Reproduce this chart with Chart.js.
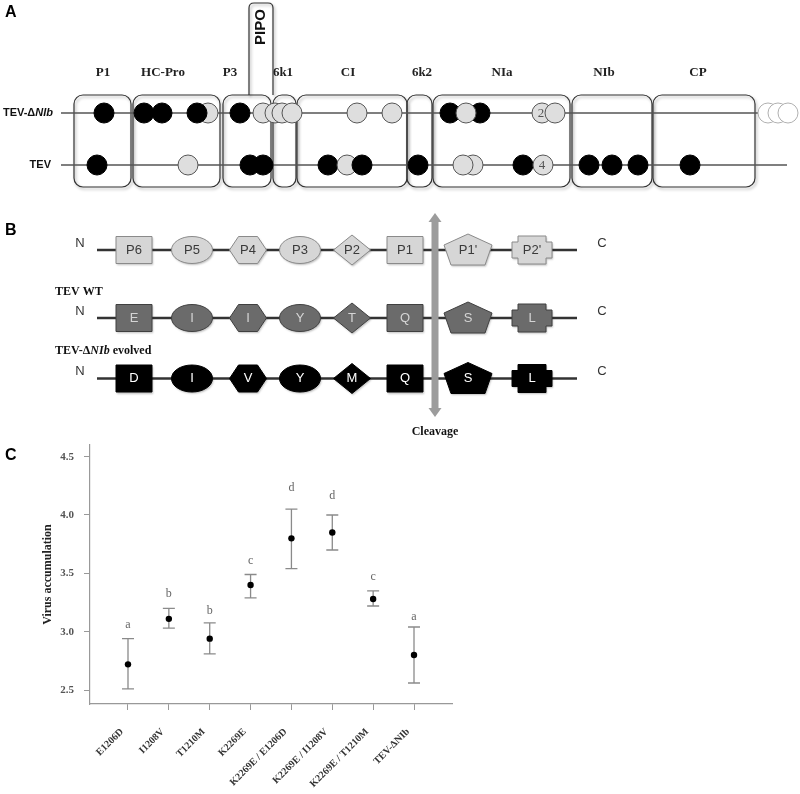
<!DOCTYPE html>
<html><head><meta charset="utf-8">
<script src="https://cdn.jsdelivr.net/npm/chart.js@4.4.1/dist/chart.umd.min.js"></script>
<style>
html,body{margin:0;padding:0;background:#fff;width:800px;height:794px;overflow:hidden;}
.pane{position:absolute;left:0;width:800px;}
</style></head><body>
<div class="pane" style="top:0;height:195px"><canvas id="ca"></canvas></div>
<div class="pane" style="top:195px;height:245px"><canvas id="cb"></canvas></div>
<div class="pane" style="top:440px;height:354px"><canvas id="cc"></canvas></div>
<script>
// ---------- Panel A data (genome map, x in map units) ----------
const geneNames  = ['P1','HC-Pro','P3','6k1','CI','6k2','NIa','NIb','CP'];
const geneStart  = [74,133,223,273,297,407,433,572,653];
const geneEnd    = [131,220,271,296,407,432,570,652,755];
const geneLabelX = [103,163,230,283,348,422,502,604,698];
const pipoStart = 249, pipoEnd = 273;
const genomeRows = ['TEV-ΔNIb','TEV'];
// mutations (draw order), type: b = fixed (black), l = polymorphic (grey), o = deleted region
const deltaMutX    = [104,144,162,208,197,240,263,275,282,292,357,392,450,480,466,542,555,768,778,788];
const deltaMutType = ['b','b','b','l','b','b','l','l','l','l','l','l','b','b','l','l','l','o','o','o'];
const deltaMutTag  = ['','','','','','','','','','','','','','','','2','','','',''];
const tevMutX      = [97,188,250,263,328,347,362,418,473,463,523,543,589,612,638,690];
const tevMutType   = ['b','l','b','b','b','l','b','b','l','l','b','l','b','b','b','b'];
const tevMutTag    = ['','','','','','','','','','','','4','','','',''];

// ---------- Panel B data (cleavage site) ----------
const siteNames  = ['P6','P5','P4','P3','P2','P1',"P1'","P2'"];
const siteShapes = ['rect','ellipse','hexagon','ellipse','diamond','rect','pentagon','notched'];
const sitePos    = [134,192,248,300,352,405,468,532];
const wtResidues      = ['E','I','I','Y','T','Q','S','L'];
const evolvedResidues = ['D','I','V','Y','M','Q','S','L'];

// ---------- Panel C data ----------
const mutants  = ['E1206D','I1208V','T1210M','K2269E','K2269E / E1206D','K2269E / I1208V','K2269E / T1210M','TEV-ΔNIb'];
const accMean  = [2.72,3.11,2.94,3.40,3.80,3.85,3.28,2.80];
const accUpper = [2.94,3.20,3.075,3.49,4.05,4.00,3.35,3.04];
const accLower = [2.51,3.03,2.81,3.29,3.54,3.70,3.22,2.56];
const groupLetters = ['a','b','b','c','d','d','c','a'];
const letterPos    = [3.06,3.32,3.18,3.61,4.23,4.16,3.47,3.13];
const yTicks = [2.5,3.0,3.5,4.0,4.5];

const SERIF = '"Liberation Serif","Times New Roman",serif';
const SANS  = '"Liberation Sans",Arial,sans-serif';
Chart.defaults.animation = false;
Chart.defaults.plugins.legend.display = false;
Chart.defaults.plugins.tooltip.enabled = false;
Chart.defaults.events = [];

const circleFill   = {b:'#000000', l:'#dedede', o:'#ffffff'};
const circleStroke = {b:'#000000', l:'#555555', o:'#b0b0b0'};

function rr(ctx,x,y,w,h,r){ctx.beginPath();ctx.roundRect(x,y,w,h,r);}

// ---------- Panel A ----------
const panelA = {
  id:'panelA',
  beforeDatasetsDraw(chart){
    const {ctx, scales:{x,y}} = chart;
    ctx.save();
    ctx.fillStyle='#000'; ctx.font='bold 16px '+SANS; ctx.textAlign='left'; ctx.textBaseline='middle';
    ctx.fillText('A',5,y.getPixelForValue(13));
    ctx.font='bold 13px '+SERIF; ctx.textAlign='center'; ctx.fillStyle='#222';
    geneNames.forEach((g,i)=>ctx.fillText(g,x.getPixelForValue(geneLabelX[i]),y.getPixelForValue(73)));
    ctx.shadowColor='rgba(0,0,0,0.35)'; ctx.shadowBlur=3; ctx.shadowOffsetX=1.5; ctx.shadowOffsetY=2;
    ctx.strokeStyle='#333'; ctx.lineWidth=1.2;
    const top=y.getPixelForValue(95), bot=y.getPixelForValue(187);
    geneStart.forEach((s,i)=>{
      const x0=x.getPixelForValue(s), x1=x.getPixelForValue(geneEnd[i]);
      rr(ctx,x0,top,x1-x0,bot-top,9); ctx.stroke();
    });
    const px0=x.getPixelForValue(pipoStart), px1=x.getPixelForValue(pipoEnd), pt=y.getPixelForValue(3);
    ctx.beginPath(); ctx.moveTo(px0,top); ctx.lineTo(px0,pt+5); ctx.quadraticCurveTo(px0,pt,px0+5,pt);
    ctx.lineTo(px1-5,pt); ctx.quadraticCurveTo(px1,pt,px1,pt+5); ctx.lineTo(px1,top); ctx.stroke();
    ctx.shadowColor='transparent';
    ctx.save(); ctx.translate((px0+px1)/2, y.getPixelForValue(27)); ctx.rotate(-Math.PI/2);
    ctx.font='bold 15px '+SANS; ctx.fillStyle='#111'; ctx.textAlign='center'; ctx.textBaseline='middle';
    ctx.fillText('PIPO',0,0); ctx.restore();
    ctx.strokeStyle='#555'; ctx.lineWidth=1.4;
    const ly=[113,165], lx1=[758,787];
    ly.forEach((v,i)=>{ctx.beginPath();ctx.moveTo(x.getPixelForValue(61),y.getPixelForValue(v));ctx.lineTo(x.getPixelForValue(lx1[i]),y.getPixelForValue(v));ctx.stroke();});
    ctx.fillStyle='#111'; ctx.textBaseline='middle'; ctx.textAlign='right';
    const ry0=y.getPixelForValue(113);
    ctx.font='bold italic 11px '+SANS; const wIt=ctx.measureText('NIb').width;
    ctx.fillText('NIb',53,ry0);
    ctx.font='bold 11px '+SANS; ctx.fillText('TEV-Δ',53-wIt,ry0);
    ctx.fillText('TEV',51,y.getPixelForValue(165));
    ctx.restore();
  },
  afterDatasetsDraw(chart){
    const {ctx} = chart;
    ctx.save(); ctx.font='13px '+SERIF; ctx.fillStyle='#555'; ctx.textAlign='center'; ctx.textBaseline='middle';
    [deltaMutTag,tevMutTag].forEach((tags,d)=>{
      const meta=chart.getDatasetMeta(d);
      tags.forEach((t,i)=>{ if(t){const p=meta.data[i]; ctx.fillText(t,p.x-1,p.y+1);} });
    });
    ctx.restore();
  }
};
new Chart(document.getElementById('ca'),{
  type:'scatter',
  data:{datasets:[
    {data:deltaMutX.map(v=>({x:v,y:113})), pointRadius:10,
     backgroundColor:c=>circleFill[deltaMutType[c.dataIndex]], borderColor:c=>circleStroke[deltaMutType[c.dataIndex]], borderWidth:1},
    {data:tevMutX.map(v=>({x:v,y:165})), pointRadius:10,
     backgroundColor:c=>circleFill[tevMutType[c.dataIndex]], borderColor:c=>circleStroke[tevMutType[c.dataIndex]], borderWidth:1}
  ]},
  options:{responsive:true,maintainAspectRatio:false,devicePixelRatio:1,layout:{padding:0,autoPadding:false},
    scales:{x:{type:'linear',min:0,max:800,display:false},y:{type:'linear',min:0,max:195,reverse:true,display:false}}},
  plugins:[panelA]
});

// ---------- Panel B ----------
function shapePath(ctx,kind,cx,cy){
  const poly=pts=>{ctx.moveTo(cx+pts[0][0],cy+pts[0][1]);pts.slice(1).forEach(p=>ctx.lineTo(cx+p[0],cy+p[1]));};
  ctx.beginPath();
  switch(kind){
    case 'rect': ctx.rect(cx-18,cy-13.5,36,27); break;
    case 'ellipse': ctx.ellipse(cx,cy,20.5,13.5,0,0,Math.PI*2); break;
    case 'hexagon': poly([[-18.5,0],[-9.5,-13.5],[9.5,-13.5],[18.5,0],[9.5,13.5],[-9.5,13.5]]); break;
    case 'diamond': poly([[-18.5,0],[0,-15],[18.5,0],[0,15]]); break;
    case 'pentagon': poly([[0,-16],[24,-5],[17,15],[-17,15],[-24,-5]]); break;
    case 'notched': poly([[-14,-14],[14,-14],[14,-8],[20,-8],[20,8],[14,8],[14,14],[-14,14],[-14,8],[-20,8],[-20,-8],[-14,-8]]); break;
  }
  ctx.closePath();
}
const rowStyle=[{fill:'#d6d6d6',stroke:'#8a8a8a',text:'#3a3a3a'},{fill:'#6b6b6b',stroke:'#404040',text:'#d4d4d4'},{fill:'#000',stroke:'#000',text:'#fff'}];
const rowText=[siteNames,wtResidues,evolvedResidues];
const panelB={
  id:'panelB',
  beforeDatasetsDraw(chart){
    const {ctx,scales:{x,y}}=chart;
    ctx.save();
    ctx.fillStyle='#000'; ctx.font='bold 16px '+SANS; ctx.textBaseline='middle'; ctx.textAlign='left';
    ctx.fillText('B',5,y.getPixelForValue(231));
    const rows=[250,318,378.5];
    ctx.strokeStyle='#333'; ctx.lineWidth=2.5;
    rows.forEach(r=>{ctx.beginPath();ctx.moveTo(x.getPixelForValue(97),y.getPixelForValue(r));ctx.lineTo(x.getPixelForValue(577),y.getPixelForValue(r));ctx.stroke();});
    ctx.font='13px '+SANS; ctx.fillStyle='#333'; ctx.textAlign='center';
    rows.forEach(r=>{ctx.fillText('N',x.getPixelForValue(80),y.getPixelForValue(r-7));ctx.fillText('C',x.getPixelForValue(602),y.getPixelForValue(r-7));});
    ctx.textAlign='left'; ctx.fillStyle='#111';
    ctx.font='bold 12px '+SERIF; ctx.fillText('TEV WT',55,y.getPixelForValue(292));
    let tx=55; const ty=y.getPixelForValue(351);
    ctx.fillText('TEV-Δ',tx,ty); tx+=ctx.measureText('TEV-Δ').width;
    ctx.font='bold italic 12px '+SERIF; ctx.fillText('NIb',tx,ty); tx+=ctx.measureText('NIb').width;
    ctx.font='bold 12px '+SERIF; ctx.fillText(' evolved',tx,ty);
    const ax=x.getPixelForValue(435), a0=y.getPixelForValue(213), a1=y.getPixelForValue(417);
    ctx.fillStyle='#9c9c9c';
    ctx.fillRect(ax-3.5,a0+8,7,a1-a0-16);
    ctx.beginPath();ctx.moveTo(ax,a0);ctx.lineTo(ax+6.5,a0+9);ctx.lineTo(ax-6.5,a0+9);ctx.closePath();ctx.fill();
    ctx.beginPath();ctx.moveTo(ax,a1);ctx.lineTo(ax+6.5,a1-9);ctx.lineTo(ax-6.5,a1-9);ctx.closePath();ctx.fill();
    ctx.fillStyle='#111'; ctx.font='bold 12px '+SERIF; ctx.textAlign='center';
    ctx.fillText('Cleavage',ax,y.getPixelForValue(432));
    ctx.restore();
  },
  afterDatasetsDraw(chart){
    const {ctx}=chart;
    ctx.save();
    chart.data.datasets.forEach((ds,r)=>{
      const meta=chart.getDatasetMeta(r), st=rowStyle[r];
      meta.data.forEach((p,i)=>{
        ctx.shadowColor='rgba(0,0,0,0.25)'; ctx.shadowBlur=2; ctx.shadowOffsetX=1; ctx.shadowOffsetY=1.5;
        shapePath(ctx,siteShapes[i],p.x,p.y);
        ctx.fillStyle=st.fill; ctx.fill();
        ctx.shadowColor='transparent';
        ctx.strokeStyle=st.stroke; ctx.lineWidth=1; ctx.stroke();
        ctx.fillStyle=st.text; ctx.font='13px '+SANS; ctx.textAlign='center'; ctx.textBaseline='middle';
        ctx.fillText(rowText[r][i],p.x,p.y);
      });
    });
    ctx.restore();
  }
};
new Chart(document.getElementById('cb'),{
  type:'scatter',
  data:{datasets:[250,318,378.5].map(r=>({data:sitePos.map(v=>({x:v,y:r})),pointRadius:0}))},
  options:{responsive:true,maintainAspectRatio:false,devicePixelRatio:1,layout:{padding:0,autoPadding:false},
    scales:{x:{type:'linear',min:0,max:800,display:false},y:{type:'linear',min:195,max:440,reverse:true,display:false}}},
  plugins:[panelB]
});

// ---------- Panel C ----------
const panelC={
  id:'panelC',
  beforeDatasetsDraw(chart){
    const {ctx,scales:{x,y}}=chart;
    ctx.save();
    ctx.fillStyle='#000'; ctx.font='bold 16px '+SANS; ctx.textBaseline='middle'; ctx.textAlign='left';
    ctx.fillText('C',5,16);
    ctx.strokeStyle='#8a8a8a'; ctx.lineWidth=1.3;
    accMean.forEach((m,i)=>{
      const px=x.getPixelForValue(i), yt=y.getPixelForValue(accUpper[i]), yb=y.getPixelForValue(accLower[i]);
      ctx.beginPath();
      ctx.moveTo(px,yt);ctx.lineTo(px,yb);
      ctx.moveTo(px-6,yt);ctx.lineTo(px+6,yt);
      ctx.moveTo(px-6,yb);ctx.lineTo(px+6,yb);
      ctx.stroke();
    });
    ctx.fillStyle='#666'; ctx.font='12px '+SERIF; ctx.textAlign='center';
    groupLetters.forEach((l,i)=>ctx.fillText(l,x.getPixelForValue(i),y.getPixelForValue(letterPos[i])));
    ctx.restore();
  }
};
new Chart(document.getElementById('cc'),{
  type:'scatter',
  data:{datasets:[{data:accMean.map((v,i)=>({x:i,y:v})),pointRadius:3.2,backgroundColor:'#000',borderColor:'#000',borderWidth:0}]},
  options:{responsive:true,maintainAspectRatio:false,devicePixelRatio:1,
    layout:{padding:{top:5,right:348,left:0,bottom:0},autoPadding:false},
    scales:{
      x:{type:'linear',min:-0.93,max:7.93,
        afterBuildTicks:s=>{s.ticks=mutants.map((m,i)=>({value:i}));},
        afterFit:s=>{s.height=90;s.paddingLeft=0;s.paddingRight=0;s.paddingTop=0;s.paddingBottom=0;},
        grid:{drawOnChartArea:false,drawTicks:true,tickLength:6,color:'#999'},
        border:{color:'#999',width:1.2},
        ticks:{autoSkip:false,maxRotation:45,minRotation:45,padding:16,labelOffset:-6,color:'#333',
          font:{family:SERIF,size:10,weight:'bold'},callback:v=>mutants[v]}},
      y:{type:'linear',min:2.38,max:4.6,
        afterBuildTicks:s=>{s.ticks=yTicks.map(v=>({value:v}));},
        afterFit:s=>{s.width=90;s.paddingTop=0;s.paddingBottom=0;s.paddingLeft=0;s.paddingRight=0;},
        grid:{drawOnChartArea:false,drawTicks:true,tickLength:6,color:'#999'},
        border:{color:'#999',width:1.2},
        ticks:{padding:10,color:'#555',font:{family:SERIF,size:11,weight:'bold'},callback:v=>v.toFixed(1)},
        title:{display:true,text:'Virus accumulation',color:'#222',font:{family:SERIF,size:12,weight:'bold'},padding:{top:41,bottom:0}}}
    }},
  plugins:[panelC]
});
</script>
</body></html>
